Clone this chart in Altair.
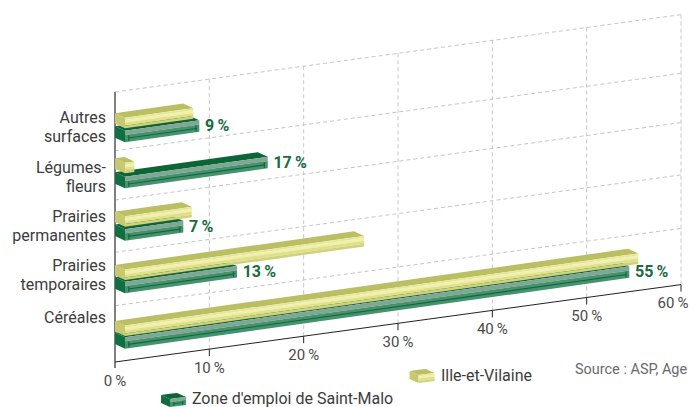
import altair as alt
import pandas as pd

# ---- values ----
categories = ["Autres\nsurfaces", "Légumes-\nfleurs", "Prairies\npermanentes", "Prairies\ntemporaires", "Céréales"]
saint_malo = [8.94, 16.19, 7.24, 12.93, 54.52]
ille_et_vilaine = [8.3, 2.05, 8.13, 26.4, 55.47]
value_labels = ["9\u2009%", "17\u2009%", "7\u2009%", "13\u2009%", "55\u2009%"]
tick_values = [0, 10, 20, 30, 40, 50, 60]
tick_labels = ["0\u2009%", "10\u2009%", "20\u2009%", "30\u2009%", "40\u2009%", "50\u2009%", "60\u2009%"]
series_names = ["Zone d'emploi de Saint-Malo", "Ille-et-Vilaine"]
source_text = "Source : ASP, Age"

# ---- layout of the pseudo-3D projection ----
Y0 = 362.0
AXIS_RISE = 1.29
BAR_RISE = 1.325
DX = 1.06
DY = 4.6
green_bottom = [142.3, 188.3, 240.7, 293.3, 348.7]
light_bottom = [128.3, 173.3, 226.7, 280.0, 336.0]
grid_left = [92, 150.7, 200, 252.3, 305.7]
label_first_line = [118, 168, 216.5, 265.5, 318]
FONT = "Roboto"
rows, seq = [], [0]


def e(screen):
    return Y0 - screen


def add(pts, fill):
    seq[0] += 1
    for p, t, b in pts:
        rows.append(dict(shape=f"s{seq[0]:04d}", pct=p, top=t, bottom=b, fill=fill))


def box(x0, x1, bottom, h, rise, dx, dy, cols, bands, inner=False):
    """x0/x1: front-left / front-right in percent, bottom in chart units."""
    F = lambda x, f=0.0: bottom + h * (1 - f) + rise * (x - x0)
    B = lambda x: F(x + dx) + dy
    xb0, xb1 = x0 - dx, x1 - dx
    add([(xb0, B(xb0), B(xb0) - h), (x0, F(x0), F(x0, 1))], cols["left"])

    def upper(x):
        return B(x) if x <= xb1 else B(xb1) + (F(x1) - B(xb1)) * (x - xb1) / dx

    def lower(x):
        return F(x) if x >= x0 else B(xb0) + (F(x0) - B(xb0)) * (x - xb0) / dx

    xs = sorted({xb0, x0, xb1, x1})
    add([(x, upper(x), lower(x)) for x in xs], cols["top"])
    for f0, f1, c in bands:
        add([(x0, F(x0, f0), F(x0, f1)), (x1, F(x1, f0), F(x1, f1))], c)
    if inner:
        a, b = x0 + 0.35, x1 - 0.3
        add([(a, F(a, .62), F(a, .72)), (b, F(b, .62), F(b, .72))], cols["line"])
        for c0 in (a, b - 0.12):
            c1 = c0 + 0.12
            add([(c0, F(c0, .42), F(c0, .92)), (c1, F(c1, .42), F(c1, .92))], cols["line"])


green = dict(left="#0f6f40", top="#0b6537", line="#12653c")
light = dict(left="#c6c96f", top="#bbbf64")
green_bands = [(0, .36, "#7fa794"), (.36, 1, "#45936e")]
light_bands = [(0, .2, "#e6e798"), (.2, .45, "#f1f0a8"), (.45, .75, "#dfdf8c"), (.75, 1, "#cfd27a")]

for i in range(len(categories)):
    box(DX, saint_malo[i], e(green_bottom[i]), 11.5, BAR_RISE, DX, DY, green, green_bands, inner=True)
    box(DX, ille_et_vilaine[i], e(light_bottom[i]), 10.5, BAR_RISE, DX, DY, light, light_bands)

# legend swatches use the same box
box(5.83, 7.53, e(407), 8, 1.2, 0.95, 4, green, green_bands, inner=True)
box(32.18, 33.88, e(383), 8, 1.2, 0.95, 4, light, light_bands)

polys = pd.DataFrame(rows)

X = alt.X("pct:Q", scale=alt.Scale(domain=[0, 60]), axis=None)
Y = alt.Y("top:Q", scale=alt.Scale(domain=[0, 347]), axis=None)

diag = pd.DataFrame(
    [dict(line=i, pct=p, top=e(g) + AXIS_RISE * p) for i, g in enumerate(grid_left) for p in (0, 60)]
)
grid_d = alt.Chart(diag).mark_line(color="#c6c6c6", strokeWidth=1, strokeDash=[4, 3]).encode(x=X, y=Y, detail="line:N")
vert = pd.DataFrame(
    [dict(pct=t, top=e(grid_left[0]) + AXIS_RISE * t, bottom=AXIS_RISE * t) for t in tick_values[1:]]
)
grid_v = alt.Chart(vert).mark_rule(color="#c6c6c6", strokeWidth=1, strokeDash=[4, 3]).encode(x=X, y=Y, y2="bottom:Q")

base = pd.DataFrame([dict(pct=0, top=0.0), dict(pct=60, top=AXIS_RISE * 60)])
baseline = alt.Chart(base).mark_line(color="#222222", strokeWidth=1).encode(x=X, y=Y)
ticks = pd.DataFrame([dict(pct=t, top=AXIS_RISE * t, bottom=AXIS_RISE * t - 7) for t in tick_values[1:]])
tick_rules = alt.Chart(ticks).mark_rule(color="#222222", strokeWidth=1).encode(x=X, y=Y, y2="bottom:Q")
yaxis = pd.DataFrame([dict(pct=0, top=e(grid_left[0]), bottom=-6.0)])
y_rule = alt.Chart(yaxis).mark_rule(color="#808080", strokeWidth=2).encode(x=X, y=Y, y2="bottom:Q")

bars = alt.Chart(polys).mark_area(interpolate="linear").encode(
    x=X, y=Y, y2="bottom:Q", fill=alt.Fill("fill:N", scale=None), detail="shape:N"
)

tick_df = pd.DataFrame(
    [dict(pct=t - (0.85 if t == 60 else 0), top=AXIS_RISE * t - 18.5, label=l) for t, l in zip(tick_values, tick_labels)]
)
tick_text = alt.Chart(tick_df).mark_text(font=FONT, fontSize=15, color="#4a4a4a", align="center", baseline="middle").encode(
    x=X, y=Y, text="label:N"
)
cat_df = pd.DataFrame([dict(pct=-0.95, top=e(c), label=l) for c, l in zip(label_first_line, categories)])
cat_text = alt.Chart(cat_df).mark_text(
    font=FONT, fontSize=16, color="#3c3c3c", align="right", baseline="middle", lineBreak="\n", lineHeight=19
).encode(x=X, y=Y, text="label:N")
val_df = pd.DataFrame(
    [
        dict(pct=v + 0.6, top=e(b) + 5.75 + BAR_RISE * (v - DX), label=l)
        for v, b, l in zip(saint_malo, green_bottom, value_labels)
    ]
)
val_text = alt.Chart(val_df).mark_text(
    font=FONT, fontSize=16, fontWeight="bold", color="#1a6b42", align="left", baseline="middle"
).encode(x=X, y=Y, text="label:N")
legend_df = pd.DataFrame(
    [
        dict(pct=8.15, top=e(398.5), label=series_names[0]),
        dict(pct=34.55, top=e(376), label=series_names[1]),
    ]
)
legend_text = alt.Chart(legend_df).mark_text(
    font=FONT, fontSize=16, color="#3c3c3c", align="left", baseline="middle"
).encode(x=X, y=Y, text="label:N")
src_df = pd.DataFrame([dict(pct=48.75, top=e(370), label=source_text)])
src_text = alt.Chart(src_df).mark_text(
    font=FONT, fontSize=14.5, color="#6a6a6a", align="left", baseline="middle"
).encode(x=X, y=Y, text="label:N")

chart = alt.layer(
    grid_d, grid_v, y_rule, baseline, tick_rules, bars, tick_text, cat_text, val_text, legend_text, src_text
).properties(
    width=566,
    height=347,
    padding={"left": 107, "top": 7, "right": 8, "bottom": 45},
    autosize=alt.AutoSizeParams(type="none"),
    background="white",
).configure_view(stroke=None)

chart.save("out.html", embed_options={"renderer": "svg", "actions": False})
